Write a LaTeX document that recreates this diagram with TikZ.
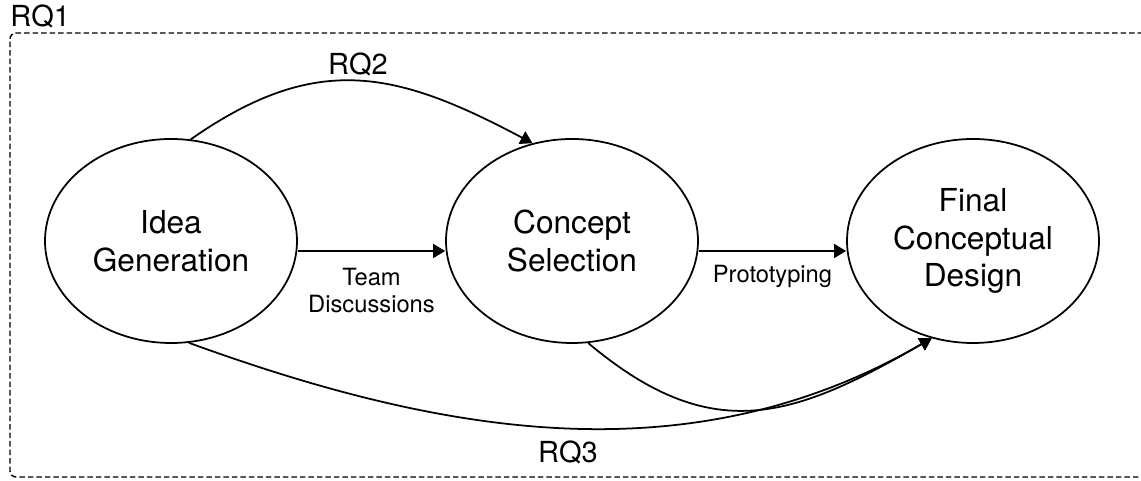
\documentclass[tikz,border=0pt]{standalone}
\usepackage{fontspec}
\setmainfont{TeX Gyre Heros}
\usetikzlibrary{shapes.geometric,arrows.meta}
\tikzset{
  stage/.style={
    draw,
    ellipse,
    line width=1pt,
    minimum width=5.04cm,
    minimum height=4.08cm,
    inner sep=0pt,
    align=center,
    font=\fontsize{18}{21.5}\selectfont
  },
  flow/.style={
    line width=1pt,
    -{Triangle[length=2.4mm,width=2.8mm]}
  },
  rq label/.style={
    inner sep=0pt,
    font=\fontsize{16.5}{19}\selectfont
  },
  step label/.style={
    inner sep=0pt,
    align=center,
    font=\fontsize{13.5}{15.5}\selectfont
  }
}

\begin{document}
\begin{tikzpicture}
\def\dx{8.02}
\def\y{4.80}
\useasboundingbox (0,0) rectangle (22.82,9.62);
% dashed frame around everything
\draw[line width=0.8pt,dash pattern=on 1.1mm off 0.6mm,rounded corners=1.2mm]
  (23.2,8.96) -- (0.2,8.96) -- (0.2,0.08) -- (23.2,0.08);
\node[rq label,anchor=base west] (rq1) at (0.2,9.08) {RQ1};

\node[stage] (idea)    at (3.42,\y)       {Idea\\Generation};
\node[stage] (concept) at (3.42+\dx,\y)   {Concept\\Selection};
\node[stage] (final)   at (3.42+2*\dx,\y) {Final\\Conceptual\\Design};

\draw[flow] ([yshift=-2mm]idea.east) --
  node[step label,below=3.2mm] (team) {Team\\Discussions}
  ([yshift=-2mm]concept.west);
\draw[flow] ([yshift=-2mm]concept.east) --
  node[step label,below=2.6mm] (proto) {Prototyping}
  ([yshift=-2mm]final.west);

%\draw[flow] (idea.80) to[out=35,in=152] (concept.112);
\draw[flow] (idea.79) to[out=35,in=152,looseness=1.15]
  node[rq label,above=0.9mm] (rq2) {RQ2} (concept.112);
\draw[flow] (concept.-81) to[out=-40,in=-150,looseness=1.2] (final.-113);
\draw[flow] (idea.-80) to[out=-20,in=-150,looseness=0.95]
  node[rq label,below=2.4mm] (rq3) {RQ3} (final.-113);
\end{tikzpicture}
\end{document}
